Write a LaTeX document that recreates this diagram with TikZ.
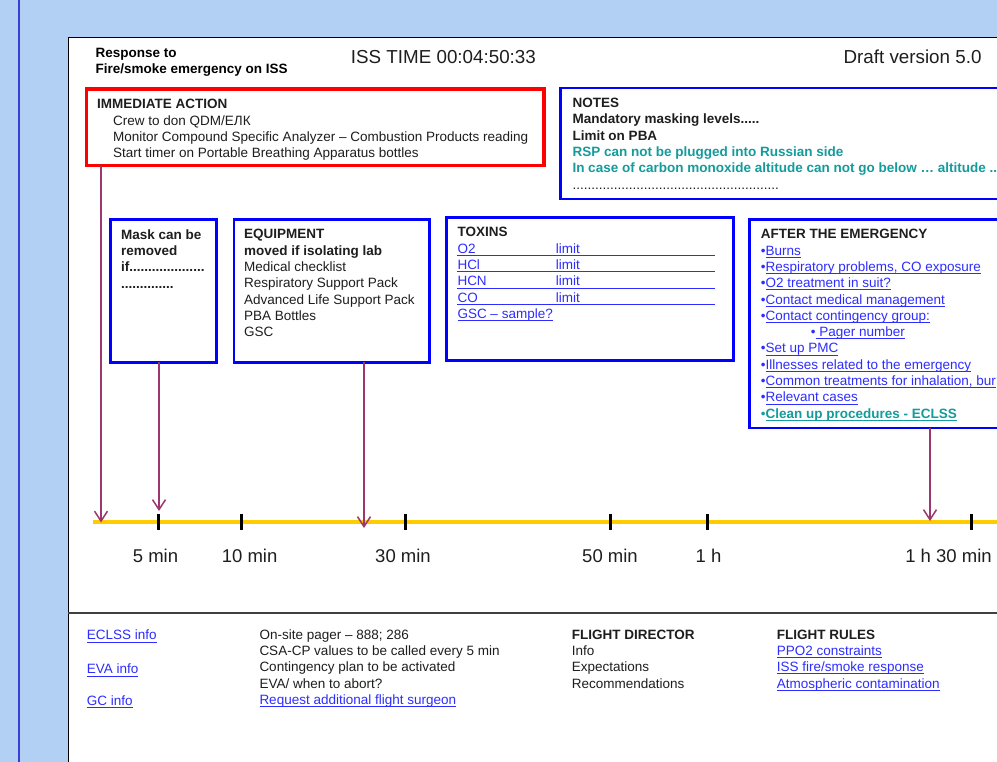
\documentclass[tikz,border=0pt]{standalone}
\usepackage{fontspec}
\setmainfont{Liberation Sans}
\usetikzlibrary{arrows.meta}

\definecolor{pagebg}{RGB}{178,208,243}
\definecolor{edgeblue}{RGB}{60,60,215}
\definecolor{linkblue}{RGB}{45,45,255}
\definecolor{tealtext}{RGB}{20,155,155}
\definecolor{arrowpurple}{RGB}{155,55,110}
\definecolor{timegold}{RGB}{255,204,0}
\definecolor{inktext}{RGB}{30,30,30}

\newsavebox{\ulinebox}
\newcommand{\uline}[1]{\sbox{\ulinebox}{#1}\rlap{\rule[-2.6pt]{\wd\ulinebox}{0.9pt}}\usebox{\ulinebox}}
\newcommand{\bodysize}{\fontsize{13.5}{16.3}\selectfont}
\newcommand{\lnk}[1]{\textcolor{linkblue}{\uline{#1}}}
\newcommand{\bul}{\textcolor{linkblue}{•}}

\begin{document}
\begin{tikzpicture}[x=1pt, y=-1pt,
    box/.style={draw=blue, line width=2.6pt, inner sep=0pt, outer sep=0pt, anchor=north west},
    alarm box/.style={box, draw=red, line width=3.3pt},
    body text/.style={anchor=north west, inner sep=0pt, align=left, text=inktext, font=\bodysize},
    row text/.style={anchor=base west, inner sep=0pt, text=linkblue, font=\bodysize},
    tick label/.style={inner sep=0pt, text=inktext, font=\fontsize{18.5}{20}\selectfont},
    down arrow/.style={draw=arrowpurple, line width=1.5pt, -{Straight Barb[length=10pt,width=13pt]}}
]

    \useasboundingbox (0,0) rectangle (997,762);
    \clip (0,0) rectangle (997,762);
    \fill[pagebg] (0,0) rectangle (997,762);
    \draw[edgeblue, line width=2.3pt] (18.7,0) -- (18.7,762);
    \draw[fill=white, line width=1pt] (68.3,38) rectangle (1005,770);
    \draw[black!75, line width=1.8pt] (68.3,613.3) -- (1005,613.3);

    % header
    \node[body text, font=\bodysize\bfseries, text=black] (title) at (95.4,47.9) {Response to\\Fire/smoke emergency on ISS};
    \node[anchor=west, inner sep=0pt, text=inktext, font=\fontsize{18.8}{20}\selectfont] (clock) at (350.7,56.7) {ISS TIME 00:04:50:33};
    \node[anchor=east, inner sep=0pt, text=inktext, font=\fontsize{18.8}{20}\selectfont] (draft) at (981.7,56.7) {Draft version 5.0};

    % boxes
    \node[alarm box, minimum width=457.5, minimum height=76.8] (immediate) at (86.5,89) {};
    \node[box, minimum width=450, minimum height=111] (notes) at (560.7,88) {};
    \node[box, minimum width=105.8, minimum height=142.8] (mask) at (110.7,219.5) {};
    \node[box, minimum width=195.7, minimum height=142.8] (equipment) at (234,219.5) {};
    \node[box, minimum width=287.4, minimum height=143] (toxins) at (446.3,217.3) {};
    \node[box, minimum width=260, minimum height=208.3] (after) at (749.7,219.7) {};

    \node[body text] (immediate text) at (97,99.2) {\textbf{IMMEDIATE ACTION}\\
        \hspace*{16pt}Crew to don QDM/ЕЛК\\
        \hspace*{16pt}Monitor Compound Specific Analyzer – Combustion Products reading\\
        \hspace*{16pt}Start timer on Portable Breathing Apparatus bottles};

    \node[body text, font=\bodysize\bfseries] (notes text) at (572.3,97.9) {NOTES\\
        Mandatory masking levels.....\\
        Limit on PBA\\
        \textcolor{tealtext}{RSP can not be plugged into Russian side}\\
        \textcolor{tealtext}{In case of carbon monoxide altitude can not go below … altitude ..}\\
        \mdseries .......................................................};

    \node[body text, font=\bodysize\bfseries] (mask text) at (121,229.2) {Mask can be\\removed\\if....................\\..............};

    \node[body text] (equipment text) at (244,229.2) {\textbf{EQUIPMENT}\\
        \textbf{moved if isolating lab}\\
        Medical checklist\\
        Respiratory Support Pack\\
        Advanced Life Support Pack\\
        PBA Bottles\\
        GSC};

    \node[body text, font=\bodysize\bfseries] (toxins text) at (457.3,227.2) {TOXINS};
    \foreach \gas [count=\i] in {O2,HCl,HCN,CO} {
        \node[row text] (gas\i) at (457.3,{253.1+16.4*(\i-1)}) {\gas};
        \node[row text] (limit\i) at (555.7,{253.1+16.4*(\i-1)}) {limit};
        \draw[linkblue, line width=0.9pt] (457.3,{255.3+16.4*(\i-1)}) -- (715.3,{255.3+16.4*(\i-1)});
    }
    \node[row text] (gsc) at (457.3,318.7) {\lnk{GSC – sample?}};

    \node[body text] (after text) at (760.7,229.2) {\textbf{AFTER THE EMERGENCY}\\
        \bul\lnk{Burns}\\
        \bul\lnk{Respiratory problems, CO exposure}\\
        \bul\lnk{O2 treatment in suit?}\\
        \bul\lnk{Contact medical management}\\
        \bul\lnk{Contact contingency group:}\\
        \hspace*{50pt}\bul\lnk{~Pager number}\\
        \bul\lnk{Set up PMC}\\
        \bul\lnk{Illnesses related to the emergency}\\
        \bul\lnk{Common treatments for inhalation, bur}\\
        \bul\lnk{Relevant cases}\\
        \textcolor{tealtext}{•\uline{\textbf{Clean up procedures - ECLSS}}}};

    % time line
    \coordinate (line start) at (93,522);
    \coordinate (line end) at (1005,522);
    \draw[timegold, line width=4.5pt] (line start) -- (line end);
    \foreach \x/\lx/\lab [count=\i] in {158.6/155.5/5 min, 241/249.6/10 min, 405.5/403/30 min,
            610/610/50 min, 707/708.5/1 h, 971.5/948.5/1 h 30 min} {
        \draw[line width=3pt] (\x,514) -- (\x,530);
        \node[tick label] (mark\i) at (\lx,556) {\lab};
    }

    \coordinate (hit0) at (101,522.5);
    \coordinate (hit1) at (159,511);
    \coordinate (hit2) at (364,528);
    \coordinate (hit3) at (930,521);
    \draw[down arrow] (immediate.south -| hit0) -- (hit0);
    \draw[down arrow] (mask.south -| hit1) -- (hit1);
    \draw[down arrow] (equipment.south -| hit2) -- (hit2);
    \draw[down arrow] (after.south -| hit3) -- (hit3);

    % bottom panel
    \node[row text] (eclss) at (86.7,639.8) {\lnk{ECLSS info}};
    \node[row text] (eva) at (86.7,673.8) {\lnk{EVA info}};
    \node[row text] (gc) at (86.7,705.5) {\lnk{GC info}};

    \node[body text] (pager text) at (259.3,629.2) {On-site pager – 888; 286\\
        CSA-CP values to be called every 5 min\\
        Contingency plan to be activated\\
        EVA/ when to abort?\\
        \lnk{Request additional flight surgeon}};

    \node[body text] (director text) at (571.7,629.5) {\textbf{FLIGHT DIRECTOR}\\Info\\Expectations\\Recommendations};
    \node[body text] (rules text) at (776.7,629.5) {\textbf{FLIGHT RULES}\\
        \lnk{PPO2 constraints}\\
        \lnk{ISS fire/smoke response}\\
        \lnk{Atmospheric contamination}};

\end{tikzpicture}
\end{document}
